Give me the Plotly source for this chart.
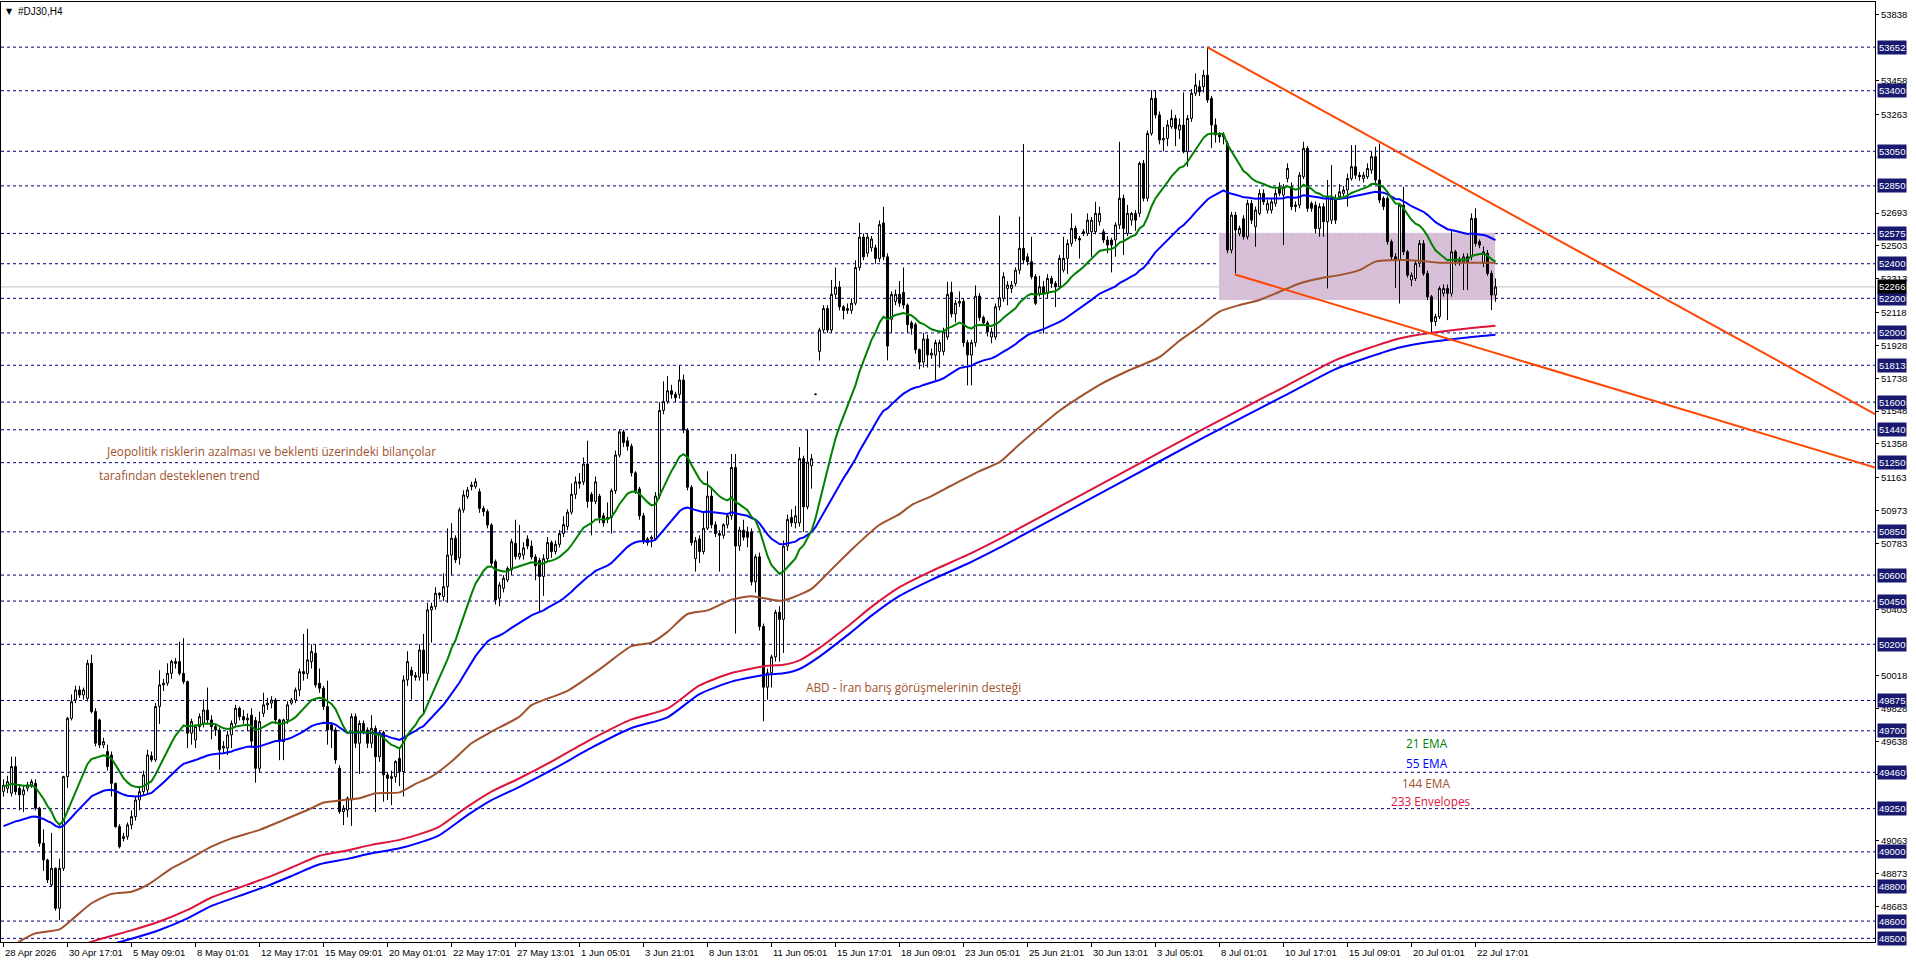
import plotly.graph_objects as go

# ---------------- DATA ----------------
n_bars = 374
bars = list(range(n_bars))

opens = [
 49350,49367,49339,49493,49368,49330,49368,49387,49396,49252,
 49050,48953,48809,48905,48674,48905,49435,49772,49878,49936,
 49907,49888,50090,49811,49763,49618,49580,49560,49396,49146,
 49077,49088,49156,49204,49300,49348,49358,49555,49532,49840,
 49965,49975,50032,50100,50100,50032,49984,49686,49647,49724,
 49744,49820,49763,49724,49705,49600,49600,49676,49743,49830,
 49782,49763,49790,49760,49483,49801,49850,49860,49878,49763,
 49637,49763,49860,49878,49936,50042,50030,50100,50148,49975,
 49946,49840,49734,49705,49483,49233,49242,49300,49782,49628,
 49743,49705,49628,49714,49550,49690,49445,49425,49435,49540,
 49464,49994,50050,50020,50010,50167,50032,50399,50418,50495,
 50476,50533,50716,50813,50700,50977,51054,51111,51111,51082,
 50986,50967,50890,50678,50466,50524,50572,50630,50784,50705,
 50716,50809,50768,50705,50685,50592,50695,50788,50736,50778,
 50840,50881,50964,51067,51129,51139,51242,51067,51026,51057,
 50943,50922,50933,51088,51294,51428,51376,51345,51191,51098,
 50943,50809,50809,50809,51057,51552,51604,51666,51645,51645,
 51728,51438,51108,50695,50809,50736,50871,51057,50891,50840,
 50830,50891,50943,51222,50768,50860,50850,50850,50561,50706,
 50303,49952,50035,50127,50385,50344,50767,50933,50902,50902,
 51273,50995,51232,51645,51893,52017,52141,52017,52223,52265,
 52151,52130,52130,52172,52378,52554,52461,52492,52492,52430,
 52636,52440,52079,52182,52223,52234,52161,52058,52048,51903,
 51831,51965,51872,51872,51893,51893,51976,52234,52110,52172,
 52182,51944,51872,51944,52213,52089,52058,51976,51976,52151,
 52200,52257,52257,52286,52363,52489,52440,52412,52325,52229,
 52267,52229,52315,52286,52267,52363,52431,52517,52604,52546,
 52585,52575,52585,52585,52643,52585,52537,52537,52537,52624,
 52778,52575,52652,52691,52691,52980,52778,53153,53356,53260,
 53115,53124,53192,53240,53173,53202,53047,53240,53385,53423,
 53423,53490,53356,53202,53144,53134,53095,52479,52681,52575,
 52660,52556,52749,52614,52691,52807,52710,52710,52749,52845,
 52797,52893,52845,52730,52739,52903,53067,52749,52739,52604,
 52730,52643,52652,52778,52787,52807,52826,52893,52961,52912,
 52893,52903,52941,53019,52884,52778,52778,52527,52440,52421,
 52739,52469,52306,52315,52402,52517,52344,52209,52065,52094,
 52229,52257,52229,52469,52412,52412,52440,52440,52662,52527,
 52402,52460,52344,52219]

highs = [
 49420,49440,49550,49550,49380,49380,49405,49420,49420,49260,
 49130,48960,49110,48910,48960,49440,49780,49910,49960,49960,
 49950,50110,50140,49830,49770,49660,49620,49580,49400,49160,
 49110,49170,49240,49320,49380,49470,49590,49580,49860,50050,
 50000,50090,50110,50120,50215,50235,49990,49770,49730,49800,
 49880,49950,49790,49740,49720,49640,49700,49760,49850,49840,
 49820,49800,49830,49780,49810,49920,49890,49900,49890,49770,
 49770,49870,49890,49950,50060,50260,50290,50200,50200,50060,
 49960,49990,49750,49720,49500,49270,49320,49800,49800,49760,
 49760,49720,49790,49730,49700,49700,49460,49470,49530,49600,
 50020,50160,50070,50040,50200,50260,50440,50440,50530,50500,
 50610,50870,50900,50830,50990,51090,51110,51140,51160,51100,
 51000,50980,50900,50690,50560,50600,50650,50810,50920,50890,
 50790,50830,50800,50720,50700,50720,50820,50800,50800,50860,
 50940,50980,51130,51170,51190,51280,51377,51080,51170,51070,
 50960,51020,51100,51320,51440,51440,51400,51360,51200,51110,
 50960,50820,50830,51080,51600,51720,51750,51700,51660,51810,
 51760,51450,51120,50820,50830,50970,51200,51110,50910,50860,
 50900,50960,51300,51300,50880,50920,50880,50870,50720,50730,
 50320,50060,50140,50400,50420,50800,50950,50980,51000,51340,
 51290,51438,51300,51650,52030,52160,52160,52306,52378,52300,
 52160,52170,52200,52420,52636,52575,52575,52560,52510,52650,
 52729,52460,52240,52250,52300,52378,52170,52070,52060,51910,
 52000,51990,51910,51960,51960,52030,52296,52296,52190,52240,
 52200,51960,51960,52275,52230,52100,52070,52030,52170,52678,
 52350,52300,52300,52380,52672,53092,52460,52556,52340,52330,
 52300,52340,52330,52300,52450,52556,52540,52691,52620,52560,
 52600,52691,52670,52758,52730,52600,52560,52550,52640,53105,
 52800,52740,52700,52710,52990,53000,53170,53404,53404,53280,
 53190,53230,53290,53260,53240,53390,53260,53410,53500,53460,
 53520,53650,53370,53240,53160,53160,53110,52700,52700,52620,
 52680,52770,52770,52730,52830,52830,52770,52780,52830,52870,
 52860,52980,52870,52760,52930,53105,53080,52760,52760,52750,
 52750,52884,52970,52800,52860,52850,52920,53086,53086,52930,
 52930,52980,53047,53076,53095,52790,52790,52540,52460,52750,
 52845,52480,52350,52420,52537,52537,52360,52220,52110,52270,
 52280,52280,52595,52480,52440,52460,52460,52691,52720,52540,
 52500,52480,52360,52315]

lows = [
 49320,49340,49320,49330,49240,49230,49350,49370,49240,49030,
 48890,48820,48800,48660,48605,48890,49370,49760,49860,49890,
 49880,49870,49800,49610,49600,49600,49470,49320,49140,49020,
 49060,49070,49130,49180,49240,49330,49330,49520,49520,49740,
 49930,49960,50000,50060,50020,49970,49600,49620,49600,49700,
 49720,49740,49650,49670,49475,49570,49560,49600,49720,49760,
 49740,49700,49600,49400,49460,49780,49820,49830,49740,49530,
 49530,49740,49850,49860,49900,49990,50000,50060,49950,49920,
 49820,49620,49600,49510,49220,49155,49200,49150,49600,49450,
 49680,49600,49600,49230,49520,49290,49300,49270,49400,49380,
 49320,49960,49880,49990,49990,49800,49990,50210,50400,50460,
 50450,50440,50600,50670,50660,50960,51040,51090,51100,50960,
 50940,50870,50650,50430,50420,50500,50560,50600,50690,50690,
 50690,50750,50690,50570,50385,50480,50680,50700,50720,50760,
 50820,50860,50950,51040,51100,51120,50990,50830,51010,50900,
 50880,50900,50840,51070,51280,51340,51320,51170,51070,50920,
 50780,50770,50760,50800,51040,51530,51590,51620,51600,51620,
 51420,51090,50770,50620,50670,50720,50860,50870,50820,50620,
 50810,50870,50920,50262,50740,50800,50760,50540,50500,50280,
 49755,49880,49950,50100,50100,50150,50740,50880,50870,50880,
 50850,50980,51100,51640,51840,52000,52000,52000,52200,52130,
 52078,52110,52110,52160,52360,52420,52440,52470,52400,52410,
 52420,51841,52000,52160,52150,52140,52000,51990,51880,51790,
 51800,51800,51850,51728,51800,51870,51960,52090,52060,52150,
 51920,51697,51697,51920,52070,52040,51980,51940,51960,52130,
 52180,52160,52230,52270,52340,52400,52390,52310,52161,52210,
 51997,52200,52260,52150,52250,52350,52340,52500,52530,52430,
 52560,52560,52440,52570,52620,52520,52460,52350,52440,52600,
 52450,52560,52620,52590,52670,52760,52760,53140,53240,53090,
 53050,53080,53180,53080,53120,53038,52960,53220,53370,53370,
 53390,53330,53070,53100,53100,53090,52460,52460,52344,52560,
 52540,52540,52630,52498,52680,52740,52690,52690,52730,52790,
 52508,52870,52710,52700,52720,52890,52700,52700,52575,52556,
 52556,52257,52630,52630,52770,52790,52730,52880,52890,52880,
 52870,52890,52920,52860,52750,52710,52510,52420,52260,52170,
 52450,52320,52270,52300,52380,52330,52190,51997,52040,52080,
 52210,52074,52210,52390,52390,52248,52248,52420,52500,52490,
 52380,52330,52132,52180]

closes = [
 49385,49406,49493,49348,49330,49358,49387,49406,49252,49050,
 48953,48838,48905,48674,48905,49435,49772,49868,49936,49907,
 49936,50090,49811,49628,49618,49637,49493,49396,49146,49030,
 49088,49156,49204,49300,49348,49445,49560,49532,49840,49965,
 49975,50032,50100,50090,50032,49984,49686,49753,49724,49782,
 49820,49763,49724,49705,49590,49610,49676,49743,49830,49782,
 49763,49773,49640,49483,49753,49850,49860,49878,49763,49647,
 49763,49850,49878,49936,50042,50030,50110,50158,49965,49946,
 49840,49705,49705,49532,49233,49252,49310,49782,49628,49743,
 49700,49628,49714,49550,49690,49445,49425,49435,49522,49464,
 49994,50100,50020,50010,50167,50032,50399,50418,50495,50485,
 50533,50716,50813,50688,50977,51063,51092,51121,51140,50986,
 50967,50890,50668,50456,50543,50582,50639,50793,50707,50726,
 50757,50768,50705,50654,50592,50695,50788,50736,50778,50840,
 50892,50964,51067,51139,51139,51242,51026,51026,51139,50933,
 50902,50933,51088,51294,51428,51366,51345,51191,51088,50943,
 50798,50788,50819,51057,51552,51604,51666,51645,51625,51728,
 51438,51108,50788,50799,50736,50871,51057,50891,50840,50830,
 50891,50943,51222,50768,50860,50819,50819,50561,50706,50303,
 49952,50035,50127,50385,50344,50767,50922,50902,50943,51273,
 50995,51253,51273,51645,52017,52141,52017,52223,52265,52151,
 52130,52141,52172,52378,52554,52440,52554,52543,52430,52626,
 52440,51924,52223,52223,52172,52161,52048,52027,51903,51831,
 51965,51872,51883,51944,51944,52006,52223,52110,52172,52182,
 51944,51872,51944,52213,52089,52058,52006,52006,52151,52203,
 52325,52277,52277,52363,52489,52421,52412,52325,52171,52267,
 52229,52315,52286,52267,52431,52431,52517,52604,52546,52537,
 52575,52652,52652,52691,52691,52537,52508,52508,52624,52778,
 52604,52691,52691,52652,52980,52778,53153,53356,53260,53115,
 53124,53202,53240,53182,53202,53047,53240,53385,53433,53394,
 53490,53346,53202,53144,53134,53144,52479,52681,52595,52604,
 52556,52749,52652,52710,52807,52758,52749,52758,52807,52807,
 52845,52951,52730,52739,52912,53067,52720,52720,52604,52730,
 52643,52787,52778,52652,52816,52826,52893,52961,52912,52903,
 52912,52951,53019,52884,52768,52730,52527,52440,52421,52739,
 52469,52334,52334,52402,52517,52344,52209,52065,52094,52257,
 52257,52229,52469,52412,52421,52440,52412,52662,52517,52508,
 52469,52344,52219,52266]

# EMA seeds at the first bar
ema21_seed = 49381
ema55_seed = 49140

# 144 EMA (bar index, price)
ema144_bars = [0,5,8,14,17,22,27,32,36,42,46,52,57,64,70,77,80,85,89,93,
               99,103,107,112,117,122,129,132,141,149,157,162,166,171,176,182,187,194,197,202,
               207,212,219,224,227,232,237,244,249,254,264,274,281,289,294,299,304,309,314,319,
               324,329,334,339,343,349,354,359,366,373]
ema144_vals = [48420,48495,48529,48552,48606,48703,48757,48770,48809,48905,
               48953,49030,49078,49127,49184,49252,49285,49300,49310,49339,
               49344,49393,49435,49522,49628,49695,49782,49848,49931,50055,
               50189,50210,50272,50375,50396,50458,50478,50451,50468,50520,
               50633,50747,50891,50953,51005,51057,51118,51201,51253,51356,
               51550,51700,51780,51860,51955,52036,52123,52161,52190,52238,
               52286,52315,52334,52363,52412,52421,52417,52406,52406,52406]

# 233 envelope middle line, deviation in percent
env_bars = [0,12,24,32,39,46,52,59,66,72,79,86,92,99,104,109,116,122,129,138,
            147,157,166,174,182,191,195,199,204,211,217,224,232,241,249,254,280,300,320,333,
            341,349,357,366,373]
env_mid = [48290,48380,48471,48522,48573,48640,48712,48770,48828,48885,
           48953,48984,49016,49045,49078,49122,49237,49324,49401,49510,
           49627,49741,49803,49937,50009,50051,50057,50082,50154,50278,
           50391,50505,50598,50691,50784,50846,51170,51420,51660,51817,
           51884,51942,51975,52000,52015]
env_dev_pct = 0.05

# horizontal levels
levels = [53652,53400,53050,52850,52575,52400,52200,52000,51813,51600,51440,51250,
          50850,50600,50450,50200,49875,49700,49460,49250,49000,48800,48600,48500]
last_price = 52266

# right axis regular ticks (those not hidden behind level labels)
y_ticks = [53838,53458,53263,52693,52503,52313,52118,51928,51738,
           51548,51358,51163,50973,50783,50403,50018,49828,49638,49448,
           49063,48873,48683]

# time axis labels (every 16 bars)
x_labels = ["28 Apr 2026","30 Apr 17:01","5 May 09:01","8 May 01:01","12 May 17:01",
            "15 May 09:01","20 May 01:01","22 May 17:01","27 May 13:01","1 Jun 05:01",
            "3 Jun 21:01","8 Jun 13:01","11 Jun 05:01","15 Jun 17:01","18 Jun 09:01",
            "23 Jun 05:01","25 Jun 21:01","30 Jun 13:01","3 Jul 05:01","8 Jul 01:01",
            "10 Jul 17:01","15 Jul 09:01","20 Jul 01:01","22 Jul 17:01"]
x_label_step = 16

# drawn objects (bar index, price)
trend1 = [(300.9, 53652), (467.9, 51530)]
trend2 = [(307.9, 52338), (467.9, 51222)]
box = dict(x0=303.9, x1=372.9, y0=52190, y1=52578)

# ---------------- FIGURE ----------------
def ema(vals, period, seed):
    a = 2.0 / (period + 1)
    e = seed
    out = []
    for v in vals:
        e = a * v + (1 - a) * e
        out.append(e)
    return out

ema21 = ema(closes, 21, ema21_seed)
ema55 = ema(closes, 55, ema55_seed)
env_up = [v * (1 + env_dev_pct / 100) for v in env_mid]
env_dn = [v * (1 - env_dev_pct / 100) for v in env_mid]

W, H = 1916, 963
PL, PR, PT, PB = 1, 1875, 2, 942
XR = [-0.625, 467.875]
YR = [48479, 53913]

def px_x(px):
    return (px - PL) / (PR - PL)

def px_y(py):
    return (PB - py) / (PB - PT)

fig = go.Figure()

fig.add_trace(go.Candlestick(
    x=bars, open=opens, high=highs, low=lows, close=closes,
    increasing=dict(line=dict(color='black', width=1), fillcolor='white'),
    decreasing=dict(line=dict(color='black', width=1), fillcolor='black'),
    whiskerwidth=0, hoverinfo='skip'))

fig.add_trace(go.Scatter(x=ema144_bars, y=ema144_vals, mode='lines',
                         line=dict(color='#A0522D', width=2, shape='spline', smoothing=0.6), hoverinfo='skip'))
fig.add_trace(go.Scatter(x=env_bars, y=env_up, mode='lines',
                         line=dict(color='#DC143C', width=2, shape='spline', smoothing=0.6), hoverinfo='skip'))
fig.add_trace(go.Scatter(x=env_bars, y=env_dn, mode='lines',
                         line=dict(color='#0000FF', width=2, shape='spline', smoothing=0.6), hoverinfo='skip'))
fig.add_trace(go.Scatter(x=bars, y=ema55, mode='lines',
                         line=dict(color='#0000FF', width=2), hoverinfo='skip'))
fig.add_trace(go.Scatter(x=bars, y=ema21, mode='lines',
                         line=dict(color='#008000', width=2), hoverinfo='skip'))

shapes = []
shapes.append(dict(type='rect', xref='x', yref='y', x0=box['x0'], x1=box['x1'],
                   y0=box['y0'], y1=box['y1'], fillcolor='#D8BFD8', line=dict(width=0), layer='below'))
for lv in levels:
    shapes.append(dict(type='line', xref='paper', yref='y', x0=0, x1=1, y0=lv, y1=lv,
                       line=dict(color='#000080', width=1, dash='3px,3px'), layer='below'))
shapes.append(dict(type='line', xref='paper', yref='y', x0=0, x1=1, y0=last_price, y1=last_price,
                   line=dict(color='#C0C0C0', width=1), layer='below'))
for tl in (trend1, trend2):
    shapes.append(dict(type='line', xref='x', yref='y', x0=tl[0][0], y0=tl[0][1],
                       x1=tl[1][0], y1=tl[1][1], line=dict(color='#FF4500', width=2)))

ann = []
AX_FONT = dict(family='Liberation Sans, Arial, sans-serif', size=9.5, color='black')
for lv in levels:
    ann.append(dict(xref='paper', yref='y', x=px_x(1877), y=lv, text=str(lv), showarrow=False,
                    xanchor='left', yanchor='middle', bgcolor='#191970', borderpad=1,
                    font=dict(family='Liberation Sans, Arial, sans-serif', size=9.5, color='white')))
ann.append(dict(xref='paper', yref='y', x=px_x(1877), y=last_price, text=str(last_price), showarrow=False,
                xanchor='left', yanchor='middle', bgcolor='#000000', borderpad=1,
                font=dict(family='Liberation Sans, Arial, sans-serif', size=9.5, color='white')))
for k, lab in enumerate(x_labels):
    ann.append(dict(xref='x', yref='paper', x=k * x_label_step, y=px_y(952), text=lab, showarrow=False,
                    xanchor='left', yanchor='middle', xshift=-1, font=AX_FONT))

TXT = 'Open Sans, Noto Sans, sans-serif'
TS = 11.8
ann += [
    dict(xref='paper', yref='paper', x=px_x(4), y=px_y(11), text='▼', showarrow=False,
         xanchor='left', yanchor='middle', font=dict(family='DejaVu Sans', size=8, color='black')),
    dict(xref='paper', yref='paper', x=px_x(16), y=px_y(11), text='#DJ30,H4', showarrow=False,
         xanchor='left', yanchor='middle', font=dict(family='Liberation Sans, Arial', size=10, color='black')),
    dict(xref='paper', yref='paper', x=px_x(104), y=px_y(451),
         text='Jeopolitik risklerin azalması ve beklenti üzerindeki bilançolar', showarrow=False,
         xanchor='left', yanchor='middle', font=dict(family=TXT, size=TS, color='#A0522D')),
    dict(xref='paper', yref='paper', x=px_x(97), y=px_y(475),
         text='tarafından desteklenen trend', showarrow=False,
         xanchor='left', yanchor='middle', font=dict(family=TXT, size=TS, color='#A0522D')),
    dict(xref='paper', yref='paper', x=px_x(804), y=px_y(687),
         text='ABD - İran barış görüşmelerinin desteği', showarrow=False,
         xanchor='left', yanchor='middle', font=dict(family=TXT, size=TS, color='#A0522D')),
    dict(xref='paper', yref='paper', x=px_x(1427), y=px_y(743), text='21 EMA', showarrow=False,
         xanchor='center', yanchor='middle', font=dict(family=TXT, size=TS, color='#008000')),
    dict(xref='paper', yref='paper', x=px_x(1427), y=px_y(763), text='55 EMA', showarrow=False,
         xanchor='center', yanchor='middle', font=dict(family=TXT, size=TS, color='#0000FF')),
    dict(xref='paper', yref='paper', x=px_x(1426), y=px_y(783), text='144 EMA', showarrow=False,
         xanchor='center', yanchor='middle', font=dict(family=TXT, size=TS, color='#A0522D')),
    dict(xref='paper', yref='paper', x=px_x(1431), y=px_y(801), text='233 Envelopes', showarrow=False,
         xanchor='center', yanchor='middle', font=dict(family=TXT, size=TS, color='#DC143C')),
]

fig.update_layout(
    width=W, height=H,
    margin=dict(l=PL, r=W - PR, t=PT, b=H - PB, pad=0),
    paper_bgcolor='white', plot_bgcolor='white',
    showlegend=False, hovermode=False,
    boxgap=0.3,
    shapes=shapes, annotations=ann,
    xaxis=dict(range=XR, showgrid=False, zeroline=False, showline=True, linecolor='black',
               linewidth=1, mirror=True, ticks='outside', ticklen=4, tickcolor='black',
               tickvals=[k * x_label_step for k in range(len(x_labels))], showticklabels=False,
               rangeslider=dict(visible=False), fixedrange=True),
    yaxis=dict(range=YR, side='right', showgrid=False, zeroline=False, showline=True,
               linecolor='black', linewidth=1, mirror=True, ticks='outside', ticklen=3,
               tickcolor='black', tickvals=y_ticks, ticktext=[str(v) for v in y_ticks],
               tickfont=AX_FONT, fixedrange=True),
)

fig.write_html("out.html")
